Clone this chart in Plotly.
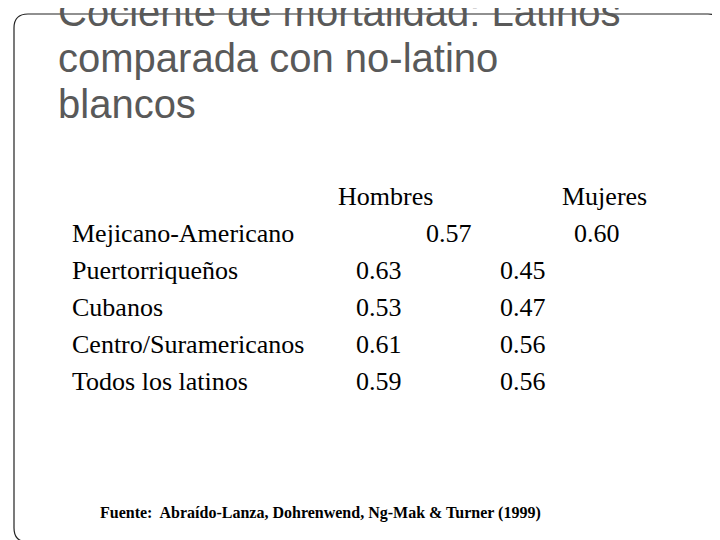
import plotly.graph_objects as go

grupos = ["Mejicano-Americano", "Puertorriqueños", "Cubanos", "Centro/Suramericanos", "Todos los latinos"]
hombres = [0.57, 0.63, 0.53, 0.61, 0.59]
mujeres = [0.60, 0.45, 0.47, 0.56, 0.56]
titulo = ["Cociente de mortalidad: Latinos", "comparada con no-latino", "blancos"]
fuente = "Fuente:  Abraído-Lanza, Dohrenwend, Ng-Mak & Turner (1999)"

fig = go.Figure()
serif = dict(family="Liberation Serif, Times New Roman, serif", size=26, color="black")
sans = dict(family="Liberation Sans, Arial, sans-serif", size=40, color="#595959")

# borde redondeado
fig.add_shape(type="path", path="M 20 6 L 700 6 Q 714 6 714 20 L 714 520 Q 714 534 700 534 L 20 534 Q 6 534 6 520 L 6 20 Q 6 6 20 6 Z",
              line=dict(color="#222", width=1.2))

for i, t in enumerate(titulo):
    fig.add_annotation(x=48, y=4 + i * 46, text=t, xanchor="left", yanchor="middle", font=sans, showarrow=False)

fig.add_annotation(x=377, y=188, text="Hombres", font=serif, xanchor="center", yanchor="middle", showarrow=False)
fig.add_annotation(x=596, y=188, text="Mujeres", font=serif, xanchor="center", yanchor="middle", showarrow=False)

for i, g in enumerate(grupos):
    y = 225 + i * 37
    fig.add_annotation(x=62, y=y, text=g, font=serif, xanchor="left", yanchor="middle", showarrow=False)
    xh, xm = (441, 589) if i == 0 else (371, 515)
    fig.add_annotation(x=xh, y=y, text=f"{hombres[i]:.2f}", font=serif, xanchor="center", yanchor="middle", showarrow=False)
    fig.add_annotation(x=xm, y=y, text=f"{mujeres[i]:.2f}", font=serif, xanchor="center", yanchor="middle", showarrow=False)

fig.add_annotation(x=90, y=505, text="<b>" + fuente + "</b>", xanchor="left", yanchor="middle", showarrow=False,
                   font=dict(family="Liberation Serif, Times New Roman, serif", size=16, color="black"))

fig.update_xaxes(range=[0, 720], visible=False)
fig.update_yaxes(range=[540, 0], visible=False)
fig.update_layout(width=720, height=540, margin=dict(l=0, r=0, t=0, b=0),
                  plot_bgcolor="white", paper_bgcolor="white", showlegend=False)
fig.write_html("out.html")
